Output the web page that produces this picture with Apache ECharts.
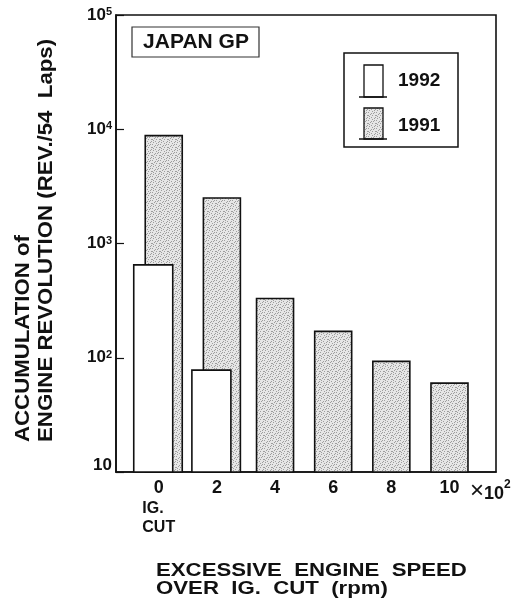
<!DOCTYPE html>
<html><head><meta charset="utf-8">
<script src="https://cdn.jsdelivr.net/npm/echarts@6/dist/echarts.min.js"></script>
<style>html,body{margin:0;padding:0;background:#fff}#c{width:527px;height:609px}</style>
</head><body><div id="c"></div>
<script>
// ---- data ----
const speeds = [0, 2, 4, 6, 8, 10];                 // excessive speed (x10^2 rpm)
const xTickLabels = ['0', '2', '4', '6', '8', '10'];
const rev1991 = [8800, 2500, 330, 170, 93, 60];     // grey bars
const rev1992 = [650, 78, null, null, null, null];  // white bars
const seriesNames = ['1992', '1991'];
const yTicks = [10, 100, 1000, 10000, 100000];
const boxTitle = 'JAPAN GP';
const yTitle = 'ACCUMULATION of\nENGINE REVOLUTION (REV./54  Laps)';
const xTitle = 'EXCESSIVE  ENGINE  SPEED\nOVER  IG.  CUT  (rpm)';

// ---- styles ----
const FONT = '"Liberation Sans", Arial, Helvetica, sans-serif';
const INK = '#111';
function makePattern() {
  const c = document.createElement('canvas'); c.width = 8; c.height = 8;
  const g = c.getContext('2d');
  g.fillStyle = '#e6e6e6'; g.fillRect(0, 0, 8, 8);
  g.fillStyle = '#9e9e9e';
  [[0,0],[5,1],[2,2],[7,3],[3,5],[6,6],[1,4],[4,7],[6,0],[1,6],[3,1],[7,5],[4,3],[0,3]]
    .forEach(p => g.fillRect(p[0], p[1], 1, 1));
  return c;
}
const greyFill = { image: makePattern(), repeat: 'repeat' };

function barRender(width, fill, offsetFn) {
  return function (params, api) {
    const x = api.value(0), v = api.value(1);
    const top = api.coord([x, v]);
    const base = api.coord([x, yTicks[0]]);
    const cx = top[0] + offsetFn(params.dataIndex);
    return {
      type: 'rect',
      shape: { x: cx - width / 2, y: top[1], width: width, height: base[1] - top[1] },
      style: { fill: fill, stroke: INK, lineWidth: 1.6 }
    };
  };
}

const chart = echarts.init(document.getElementById('c'), null, { renderer: 'canvas' });

const option = {
  backgroundColor: '#fff',
  animation: false,
  grid: { left: 116, right: 31, top: 15, bottom: 137, show: true, borderColor: INK, borderWidth: 1.6, backgroundColor: 'transparent' },
  xAxis: {
    type: 'value', min: -1.47, max: 11.6,
    axisLine: { show: true, onZero: false, lineStyle: { color: INK, width: 1.6 } },
    axisTick: { show: false },
    splitLine: { show: false },
    axisLabel: {
      customValues: speeds,
      margin: 6,
      formatter: function (v) {
        const i = speeds.indexOf(v);
        const t = '{c|' + xTickLabels[i] + '}';
        return i === 0 ? t + '\n{s1|IG.}\n{s2|CUT}' : t;
      },
      rich: {
        c: { fontFamily: FONT, fontWeight: 'bold', fontSize: 18, color: INK, lineHeight: 20, align: 'center' },
        s1: { fontFamily: FONT, fontWeight: 'bold', fontSize: 16, color: INK, lineHeight: 22, align: 'left' },
        s2: { fontFamily: FONT, fontWeight: 'bold', fontSize: 16, color: INK, lineHeight: 16, align: 'left' }
      }
    },
    name: '{m|×}{n|10}{p|2}',
    nameLocation: 'end',
    nameGap: -26,
    nameTextStyle: {
      verticalAlign: 'top', align: 'left', padding: [7, 0, 0, 0],
      rich: {
        m: { fontFamily: FONT, fontWeight: 'normal', fontSize: 24, color: INK, verticalAlign: 'bottom' },
        n: { fontFamily: FONT, fontWeight: 'bold', fontSize: 18, color: INK, verticalAlign: 'bottom' },
        p: { fontFamily: FONT, fontWeight: 'bold', fontSize: 12, color: INK, verticalAlign: 'top' }
      }
    }
  },
  yAxis: {
    type: 'log', logBase: 10, min: yTicks[0], max: yTicks[yTicks.length - 1],
    axisLine: { show: true, onZero: false, lineStyle: { color: INK, width: 1.6 } },
    axisTick: { show: true, inside: true, length: 8, lineStyle: { color: INK, width: 1.2 } },
    minorTick: { show: false },
    splitLine: { show: false },
    axisLabel: {
      margin: 4,
      formatter: function (v) {
        const e = Math.round(Math.log10(v));
        return e === 1 ? '{b|10}' : '{n|10}{s|' + e + '}';
      },
      rich: {
        n: { fontFamily: FONT, fontWeight: 'bold', fontSize: 17, color: INK, verticalAlign: 'bottom' },
        s: { fontFamily: FONT, fontWeight: 'bold', fontSize: 11, color: INK, verticalAlign: 'top' },
        b: { fontFamily: FONT, fontWeight: 'bold', fontSize: 17, color: INK, padding: [0, 0, 14, 0] }
      }
    }
  },
  series: [
    {
      name: seriesNames[1], type: 'custom', z: 2,
      renderItem: barRender(37, greyFill, i => (rev1992[i] != null ? 5 : 0)),
      encode: { x: 0, y: 1 },
      data: speeds.map((s, i) => [s, rev1991[i]])
    },
    {
      name: seriesNames[0], type: 'custom', z: 3,
      renderItem: barRender(39, '#fff', () => -5.5),
      encode: { x: 0, y: 1 },
      data: speeds.map((s, i) => [s, rev1992[i]]).filter(d => d[1] != null)
    }
  ],
  graphic: [
    // JAPAN GP box
    { type: 'rect', shape: { x: 132, y: 27, width: 127, height: 30 }, style: { fill: '#fff', stroke: '#333', lineWidth: 1.2 }, z: 10 },
    { type: 'text', x: 196, y: 42.5, style: { text: boxTitle, fontFamily: FONT, fontWeight: 'bold', fontSize: 21, fill: INK, textAlign: 'center', textVerticalAlign: 'middle' }, z: 11 },
    // legend box
    { type: 'rect', shape: { x: 344, y: 53, width: 114, height: 94 }, style: { fill: '#fff', stroke: INK, lineWidth: 1.5 }, z: 10 },
    { type: 'rect', shape: { x: 364, y: 65, width: 19, height: 32 }, style: { fill: '#fff', stroke: INK, lineWidth: 1.3 }, z: 11 },
    { type: 'line', shape: { x1: 359, y1: 97, x2: 387, y2: 97 }, style: { stroke: INK, lineWidth: 1.5 }, z: 11 },
    { type: 'text', x: 398, y: 81, style: { text: seriesNames[0], fontFamily: FONT, fontWeight: 'bold', fontSize: 19, fill: INK, textAlign: 'left', textVerticalAlign: 'middle' }, z: 11 },
    { type: 'rect', shape: { x: 364, y: 108, width: 19, height: 31 }, style: { fill: greyFill, stroke: INK, lineWidth: 1.3 }, z: 11 },
    { type: 'line', shape: { x1: 359, y1: 139, x2: 387, y2: 139 }, style: { stroke: INK, lineWidth: 1.5 }, z: 11 },
    { type: 'text', x: 398, y: 126, style: { text: seriesNames[1], fontFamily: FONT, fontWeight: 'bold', fontSize: 19, fill: INK, textAlign: 'left', textVerticalAlign: 'middle' }, z: 11 },
    // y-axis title (rotated)
    { type: 'text', x: 35, y: 442, rotation: Math.PI / 2, scaleX: 1.14, scaleY: 1,
      style: { text: yTitle, fontFamily: FONT, fontWeight: 'bold', fontSize: 19.5, lineHeight: 22.5, fill: INK, textAlign: 'left', textVerticalAlign: 'middle' } },
    // x-axis title
    { type: 'text', x: 156, y: 580, scaleX: 1.2, scaleY: 1,
      style: { text: xTitle, fontFamily: FONT, fontWeight: 'bold', fontSize: 18.5, lineHeight: 17.5, fill: INK, textAlign: 'left', textVerticalAlign: 'middle' } }
  ]
};
chart.setOption(option);
</script>
</body></html>
